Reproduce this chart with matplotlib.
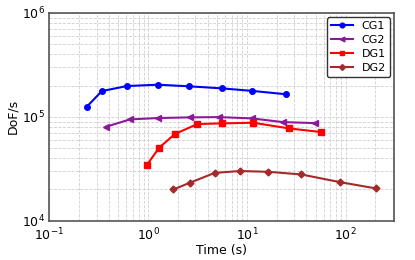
import matplotlib
matplotlib.use('Agg')
import matplotlib.pyplot as plt

# timings (s) and throughput (DoF/s)
cg1_t = [0.239, 0.339, 0.607, 1.25, 2.58, 5.6, 11.2, 25.0]
cg1_d = [1.25e5, 1.77e5, 1.98e5, 2.04e5, 1.97e5, 1.88e5, 1.78e5, 1.65e5]

cg2_t = [0.375, 0.656, 1.25, 2.65, 5.22, 11.2, 23.0, 48.5]
cg2_d = [8.03e4, 9.46e4, 9.74e4, 9.89e4, 9.95e4, 9.67e4, 8.91e4, 8.71e4]

dg1_t = [0.968, 1.29, 1.86, 3.15, 5.6, 11.6, 26.5, 56.6]
dg1_d = [3.43e4, 5.04e4, 6.83e4, 8.53e4, 8.66e4, 8.78e4, 7.75e4, 7.14e4]

dg2_t = [1.80, 2.64, 4.72, 8.51, 16.4, 35.5, 88.2, 201]
dg2_d = [2.00e4, 2.32e4, 2.89e4, 3.01e4, 2.96e4, 2.79e4, 2.35e4, 2.05e4]

fig = plt.figure(figsize=(4.15, 2.6), dpi=100)
ax = fig.add_axes([0.119, 0.151, 0.831, 0.799])

ax.plot(cg1_t, cg1_d, '-o', color='blue', ms=4, lw=1.5, label='CG1')
ax.plot(cg2_t, cg2_d, '-<', color='#8B1A9B', ms=4, lw=1.5, label='CG2')
ax.plot(dg1_t, dg1_d, '-s', color='red', ms=4, lw=1.5, label='DG1')
ax.plot(dg2_t, dg2_d, '-D', color='#A52A2A', ms=3.5, lw=1.5, label='DG2')

ax.set_xscale('log')
ax.set_yscale('log')
ax.set_xlim(0.1, 310)
ax.set_ylim(1e4, 1e6)
ax.grid(True, which='both', ls='--', color='#d0d0d0', lw=0.6)
for s in ax.spines.values():
    s.set_color('#555555')
    s.set_linewidth(1.2)
ax.tick_params(labelsize=9, which='both', length=0, pad=3)
ax.tick_params(axis='x', pad=4)
ax.set_xlabel('Time (s)', fontsize=9, labelpad=1)
ax.set_ylabel('DoF/s', fontsize=9, labelpad=2)

leg = ax.legend(loc='upper right', fontsize=8, handlelength=2.0, borderpad=0.35,
                labelspacing=0.35, markerscale=0.85, borderaxespad=0.4)
leg.get_frame().set_edgecolor('#333333')
leg.get_frame().set_alpha(1.0)

fig.savefig('out.png', dpi=100)
